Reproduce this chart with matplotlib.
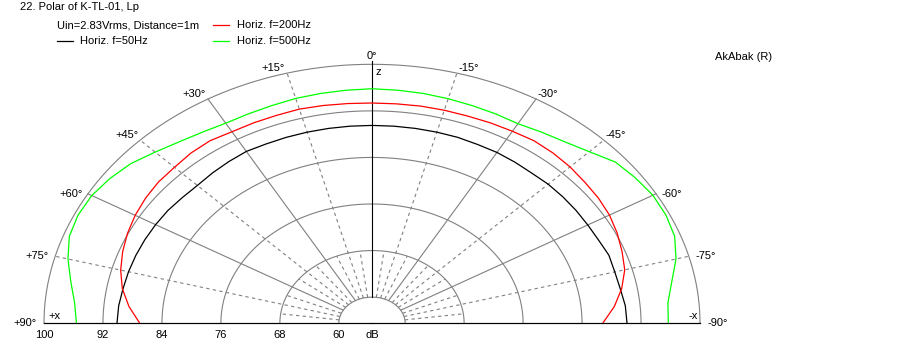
import numpy as np
import matplotlib.pyplot as plt
from matplotlib.lines import Line2D

plt.rcParams['font.family'] = ['Liberation Sans', 'DejaVu Sans']
plt.rcParams['font.size'] = 8

# angles in degrees, + is to the left (+x side)
angles = [-90, -85, -80, -75, -70, -65, -60, -55, -50, -45, -40, -35, -30, -25, -20, -15, -10, -5,
          0, 5, 10, 15, 20, 25, 30, 35, 40, 45, 50, 55, 60, 65, 70, 75, 80, 85, 90]

# level in dB
lp_50 = [90.1, 90.0, 89.7, 89.6, 89.7, 89.4, 89.3, 89.3, 89.3, 89.3, 89.2, 89.3, 89.4, 89.4, 89.5, 89.5, 89.5, 89.5,
         89.5, 89.5, 89.5, 89.5, 89.5, 89.5, 89.6, 89.4, 89.2, 89.0, 89.1, 89.3, 89.4, 89.5, 89.6, 89.7, 89.8, 90.0, 90.1]
lp_200 = [86.8, 88.5, 89.9, 91.0, 91.6, 92.2, 92.7, 93.0, 93.2, 93.5, 93.7, 93.8, 93.6, 93.5, 93.4, 93.4, 93.4, 93.35,
          93.35, 93.4, 93.5, 93.6, 93.5, 93.5, 93.5, 93.8, 93.7, 93.4, 93.3, 93.0, 92.6, 92.1, 91.5, 90.8, 89.9, 88.6, 87.0]
lp_500 = [95.7, 95.8, 96.8, 98.2, 99.2, 99.5, 99.5, 99.1, 98.6, 97.2, 96.2, 95.6, 95.1, 95.2, 95.3, 95.45, 95.6, 95.7,
          95.8, 95.7, 95.6, 95.5, 95.3, 95.2, 95.2, 95.6, 96.2, 97.1, 98.2, 98.9, 99.4, 99.5, 99.2, 98.2, 97.0, 96.0, 95.6]

rings = [60, 68, 76, 84, 92, 100]
spokes = [15, 30, 45, 60, 75, 90]
r_min = 55.5
gray = '#808080'
px = 0.72  # points per pixel

fig = plt.figure(figsize=(9.14, 3.61), dpi=100)
# polar axes pads the half disc to a square box: the disc fills the middle half of the axes height
ax = fig.add_axes([44 / 914, (361 - 452.8) / 361, 656 / 914, 518 / 361], projection='polar')
ax.set_theta_zero_location('N')
ax.set_thetamin(-90)
ax.set_thetamax(90)
ax.set_rlim(r_min, 100)
ax.set_aspect('auto')
ax.set_xticks([])
ax.set_yticks([])
ax.grid(False)
for s in ax.spines.values():
    s.set_visible(False)
ax.patch.set_visible(False)

# grid
th = np.radians(np.linspace(-90, 90, 361))
for r in rings:
    ax.plot(th, np.full_like(th, r), color=gray, lw=0.8, clip_on=False)
for a in [15, 30, 45, 60, 75]:
    for sg in (1, -1):
        ls = '-' if a % 30 == 0 else (0, (3, 3))
        ax.plot([np.radians(sg * a)] * 2, [60, 100], color=gray, lw=0.8, ls=ls, clip_on=False)
for a in np.arange(7.5, 90, 15):
    for sg in (1, -1):
        ax.plot([np.radians(sg * a)] * 2, [60, 68], color=gray, lw=0.8, ls=(0, (3, 3)), clip_on=False)
ax.plot([0, 0], [60, 100.6], color='black', lw=0.8, clip_on=False)
ax.plot([np.pi / 2, np.pi / 2, -np.pi / 2, -np.pi / 2], [100, r_min, r_min, 100], color='black', lw=0.8, clip_on=False)

# curves
th_d = np.radians(angles)
ax.plot(th_d, lp_50, color='black', lw=0.9, clip_on=False)
ax.plot(th_d, lp_200, color='#ff0000', lw=0.9, clip_on=False)
ax.plot(th_d, lp_500, color='#00ff00', lw=0.9, clip_on=False)

# angle labels
ax.annotate('0°', xy=(0, 100), xytext=(0, 3 * px), textcoords='offset points', ha='center', va='bottom')
for a in spokes:
    for sg in (1, -1):
        lab = ('+' if sg > 0 else '-') + '%d°' % a
        ha = 'right' if sg > 0 else 'left'
        if a <= 45:
            off, va = (-2 * sg * px, 0), 'bottom'
        else:
            off, va = (-(5 if a == 60 else 7) * sg * px, 0), 'center'
        ax.annotate(lab, xy=(np.radians(sg * a), 100), xytext=off, textcoords='offset points', ha=ha, va=va)

# dB labels along the base line
for r in rings:
    ax.annotate('%d' % r, xy=(np.pi / 2, r), xytext=(0, -12 * px), textcoords='offset points',
                ha='center', va='center')
ax.annotate('dB', xy=(0, r_min), xytext=(0, -12 * px), textcoords='offset points', ha='center', va='center')

fig.text(48 / 914, 1 - 316 / 361, '+x', va='center')
fig.text(698 / 914, 1 - 316 / 361, '-x', va='center', ha='right')
fig.text(375 / 914, 1 - 72 / 361, 'z', va='center')

# header
fig.text(20 / 914, 1 - 7.5 / 361, '22. Polar of K-TL-01, Lp', va='center')
fig.text(57 / 914, 1 - 25 / 361, 'Uin=2.83Vrms, Distance=1m', va='center')
fig.text(80 / 914, 1 - 41 / 361, 'Horiz. f=50Hz', va='center')
fig.text(237 / 914, 1 - 25 / 361, 'Horiz. f=200Hz', va='center')
fig.text(237 / 914, 1 - 41 / 361, 'Horiz. f=500Hz', va='center')
for x0, y0, c in [(57, 41, 'black'), (213, 25, '#ff0000'), (213, 41, '#00ff00')]:
    fig.add_artist(Line2D([x0 / 914, (x0 + 16) / 914], [1 - y0 / 361] * 2, color=c, lw=0.9,
                          transform=fig.transFigure))
fig.text(715 / 914, 1 - 57 / 361, 'AkAbak (R)', va='center')

fig.savefig('out.png', dpi=100)
